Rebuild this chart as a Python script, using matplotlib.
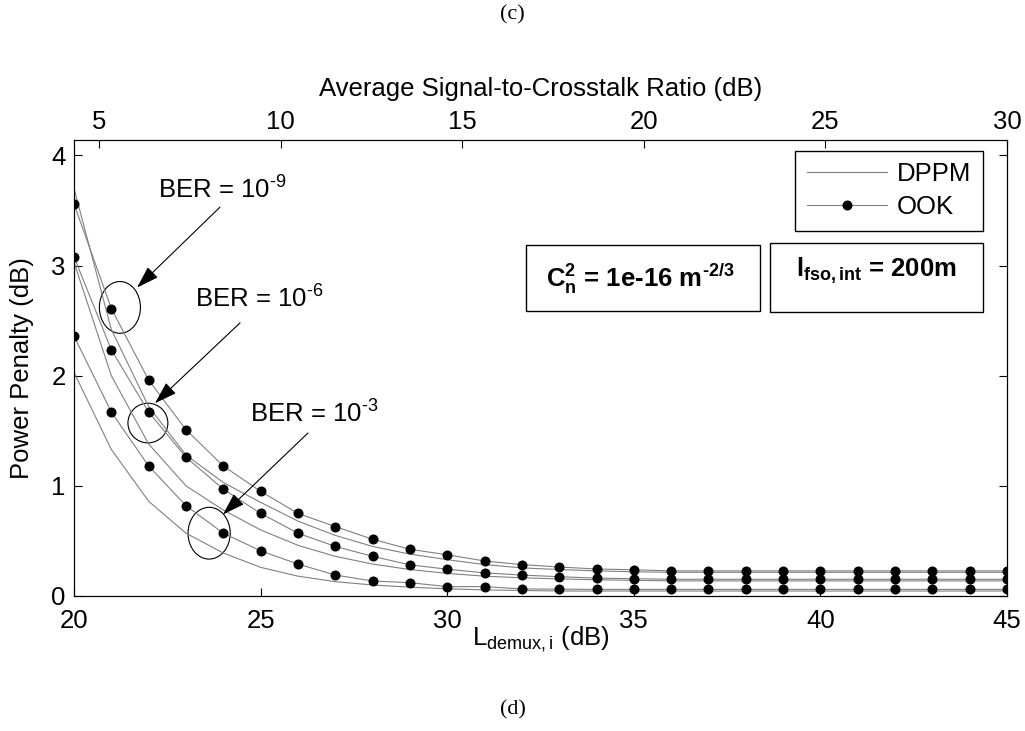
import matplotlib
matplotlib.use("Agg")
import matplotlib.pyplot as plt
from matplotlib.patches import Ellipse, Rectangle
import numpy as np

plt.rcParams['font.family'] = ['Liberation Sans', 'DejaVu Sans']
plt.rcParams['mathtext.fontset'] = 'custom'
plt.rcParams['mathtext.rm'] = 'Liberation Sans'
plt.rcParams['mathtext.it'] = 'Liberation Sans:italic'
plt.rcParams['mathtext.bf'] = 'Liberation Sans:bold'

HY = '\u2010'  # short hyphen, like the original's superscript minus

# L_demux,i (dB)
l_demux = np.arange(20, 46)

# OOK curves (with markers)
ook_ber9 = [3.56, 2.61, 1.96, 1.51, 1.18, 0.95, 0.75, 0.63, 0.515, 0.424, 0.374, 0.318,
            0.285, 0.263, 0.245, 0.238] + [0.228] * 10
ook_ber6 = [3.08, 2.235, 1.67, 1.26, 0.97, 0.75, 0.57, 0.45, 0.36, 0.283, 0.243, 0.21,
            0.19, 0.175, 0.162, 0.157] + [0.152] * 10
ook_ber3 = [2.36, 1.67, 1.18, 0.82, 0.57, 0.41, 0.29, 0.19, 0.136, 0.121, 0.085, 0.085,
            0.064, 0.062] + [0.06] * 12

# DPPM curves (plain lines)
dppm_ber9 = [3.70, 2.42, 1.72, 1.28, 1.03, 0.85, 0.68, 0.55, 0.45, 0.38, 0.33, 0.285,
             0.255, 0.24, 0.228, 0.22] + [0.215] * 10
dppm_ber6 = [3.03, 2.0, 1.38, 1.0, 0.78, 0.60, 0.46, 0.36, 0.29, 0.24, 0.205, 0.18,
             0.165, 0.155, 0.147, 0.142] + [0.137] * 10
dppm_ber3 = [2.03, 1.33, 0.86, 0.57, 0.39, 0.26, 0.18, 0.13, 0.10, 0.08, 0.065, 0.055,
             0.05] + [0.045] * 13

sxr_ticks = [5, 10, 15, 20, 25, 30]

fs = 18.5
line_col = '#808080'

fig = plt.figure(figsize=(10.25, 7.31), dpi=100)
ax = fig.add_axes([0.0722, 0.1847, 0.9103, 0.6238])

for d in (dppm_ber9, dppm_ber6, dppm_ber3):
    ax.plot(l_demux, d, color=line_col, lw=0.8)
for o in (ook_ber9, ook_ber6, ook_ber3):
    ax.plot(l_demux, o, color=line_col, lw=0.8, marker='o', ms=6.2,
            mfc='k', mec='k')

ax.set_xlim(20, 45)
ax.set_ylim(0, 4.14)
ax.set_xticks([20, 25, 30, 35, 40, 45])
ax.set_yticks([0, 1, 2, 3, 4])
ax.tick_params(direction='in', length=6, labelsize=fs, right=True, top=False)
ax.tick_params(axis='x', pad=9.5)
ax.tick_params(axis='y', pad=6)
ax.set_ylabel('Power Penalty (dB)', fontsize=fs)
ax.yaxis.set_label_coords(-0.056, 0.5)
ax.yaxis.label.set_va('center')
ax.set_xlabel(r'L$_{\mathrm{demux,i}}$ (dB)', fontsize=fs)
ax.xaxis.set_label_coords(0.5, -0.094)
ax.xaxis.label.set_va('center')

ax2 = ax.twiny()
ax2.set_xlim(4.31, 30)
ax2.set_xticks(sxr_ticks)
ax2.tick_params(direction='in', length=6, labelsize=fs, pad=4)
ax2.set_xlabel('Average Signal-to-Crosstalk Ratio (dB)', fontsize=fs)
ax2.xaxis.set_label_coords(0.5, 1.112)
ax2.xaxis.label.set_va('center')

# legend
ax.plot([], [], color=line_col, lw=0.8, label='DPPM')
ax.plot([], [], color=line_col, lw=0.8, marker='o', ms=6.2, mfc='k', mec='k',
        label='OOK')
h, lab = ax.get_legend_handles_labels()
leg = ax.legend(h[-2:], lab[-2:], loc='upper right', bbox_to_anchor=(0.974, 0.976),
                borderaxespad=0, fancybox=False, edgecolor='k', fontsize=fs,
                handlelength=3.1, handletextpad=0.4, labelspacing=0.35,
                borderpad=0.45, framealpha=1)
leg.get_frame().set_linewidth(1.0)

# parameter boxes
ax.add_patch(Rectangle((0.4845, 0.625), 0.2508, 0.145, transform=ax.transAxes,
                       fill=False, ec='k', lw=1.0))
ax.text(0.607, 0.678, r'$\mathbf{C_n^2}$ = 1e-16 m$^{\mathbf{' + HY + r'2/3}}$',
        transform=ax.transAxes, ha='center', va='baseline', fontsize=fs,
        fontweight='bold')
ax.add_patch(Rectangle((0.746, 0.623), 0.228, 0.151, transform=ax.transAxes,
                       fill=False, ec='k', lw=1.0))
ax.text(0.86, 0.70, r'$\mathbf{l_{fso,int}}$ = 200m', transform=ax.transAxes,
        ha='center', va='baseline', fontsize=fs, fontweight='bold')

# BER annotations
ann = [
    ('BER = 10$^{' + HY + '9}$', (22.25, 3.61), (23.91, 3.53), (21.69, 2.80), (21.23, 2.62), 1.10, 0.47),
    ('BER = 10$^{' + HY + '6}$', (23.24, 2.62), (24.45, 2.48), (22.17, 1.75), (21.98, 1.57), 1.07, 0.36),
    ('BER = 10$^{' + HY + '3}$', (24.72, 1.57), (26.27, 1.48), (23.99, 0.74), (23.62, 0.57), 1.13, 0.47),
]
for txt, tpos, tail, head, ec, ew, eh in ann:
    ax.text(tpos[0], tpos[1], txt, fontsize=fs, ha='left', va='baseline')
    ax.annotate('', xy=head, xytext=tail,
                arrowprops=dict(arrowstyle='-|>,head_length=1.4,head_width=0.45',
                                color='k', lw=0.8, shrinkA=0, shrinkB=0))
    ax.add_patch(Ellipse(ec, ew, eh, fill=False, ec='k', lw=0.8))

fig.text(0.5, 0.979, '(c)', ha='center', va='center', fontsize=16, family='Liberation Serif')
fig.text(0.5, 0.029, '(d)', ha='center', va='center', fontsize=16, family='Liberation Serif')

fig.savefig('out.png', dpi=100)
